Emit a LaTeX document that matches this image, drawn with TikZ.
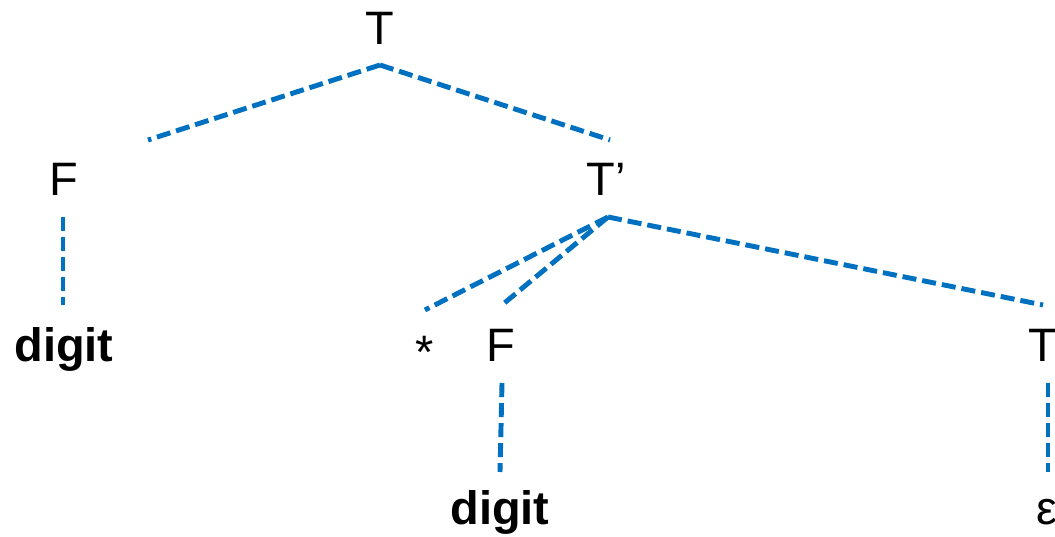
\documentclass[tikz,border=0pt]{standalone}
\usepackage{fontspec}
\setmainfont{Liberation Sans}
\usepackage{tikz}
\usetikzlibrary{positioning, calc}
\definecolor{treeblue}{RGB}{0,112,192}
\tikzset{
  sym/.style={inner sep=0pt, anchor=base, font=\fontsize{26.7}{32}\selectfont},
  term/.style={sym, font=\fontsize{26.7}{32}\selectfont\bfseries},
  edge/.style={dash pattern=on 8pt off 3.4pt, line width=2.8pt, color=treeblue}
}

\begin{document}
\begin{tikzpicture}
  \useasboundingbox (0,0) rectangle (21.1,10.74);

  % Symbols of the tree
  \node[sym] (T) at (7.60,9.84) {T};
  \node[sym] (F) at (1.28,6.82) {F};
  \node[term] (dig1) at (1.28,3.50) {digit};
  \node[sym] (Tp) at (12.12,6.82) {T’};
  \node[sym] (star) at (8.50,3.36) {*};
  \node[sym] (F2) at (10.02,3.50) {F};
  \node[term] (dig2) at (10.00,0.24) {digit};
  \node[sym, anchor=base west] (Tp2) at (20.56,3.50) {T’};
  \node[sym, anchor=base west] (eps) at (20.72,0.24) {ε};

  % Line ends
  \coordinate (T-j) at (7.60,9.44);
  \coordinate (F-up) at (2.96,7.94);
  \coordinate (Tp-up) at (12.20,7.94);
  \coordinate (F-j) at (1.26,6.40);
  \coordinate (dig1-up) at (1.26,4.64);
  \coordinate (Tp-j) at (12.16,6.40);
  \coordinate (star-up) at (8.50,4.54);
  \coordinate (F2-up) at (10.04,4.64);
  \coordinate (Tp2-up) at (20.86,4.64);
  \coordinate (F2-j) at (10.04,3.08);
  \coordinate (dig2-up) at (10.00,1.30);
  \coordinate (Tp2-j) at (20.96,3.08);
  \coordinate (eps-up) at (20.96,1.30);

  % Branches
  \draw[edge] (T-j) -- (F-up);
  \draw[edge] (T-j) -- (Tp-up);
  \draw[edge] (F-j) -- (dig1-up);
  \draw[edge] (Tp-j) -- (star-up);
  \draw[edge] (Tp-j) -- (F2-up);
  \draw[edge] (Tp-j) -- (Tp2-up);
  \draw[edge] (F2-j) -- (dig2-up);
  \draw[edge] (Tp2-j) -- (eps-up);
\end{tikzpicture}
\end{document}
